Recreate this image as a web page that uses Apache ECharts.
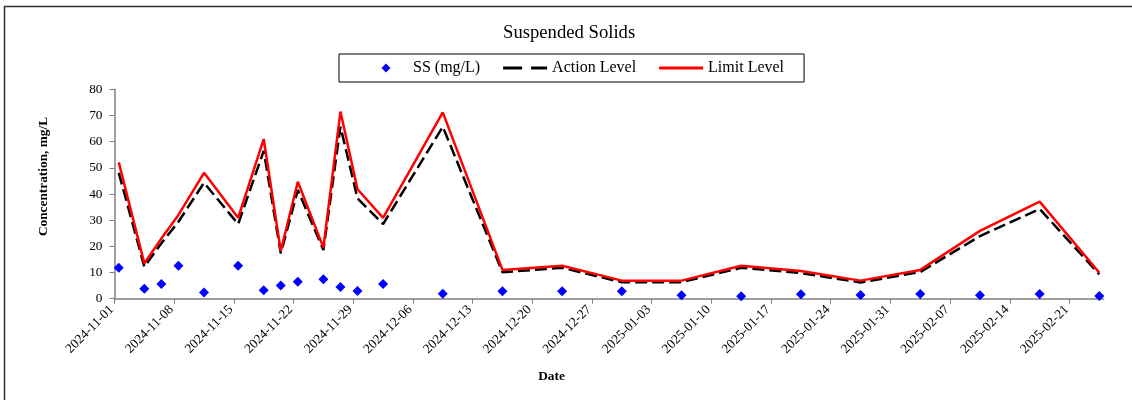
<!DOCTYPE html>
<html>
<head>
<meta charset="utf-8">
<script src="https://cdn.jsdelivr.net/npm/echarts@6/dist/echarts.min.js"></script>
<style>
html,body{margin:0;padding:0;background:#fff;}
#chart{width:1132px;height:400px;}
</style>
</head>
<body>
<div id="chart"></div>
<script>
// ---- data ----
const sampleDates = ['2024-11-01','2024-11-04','2024-11-06','2024-11-08','2024-11-11','2024-11-15','2024-11-18','2024-11-20','2024-11-22','2024-11-25','2024-11-27','2024-11-29','2024-12-02','2024-12-09','2024-12-16','2024-12-23','2024-12-30','2025-01-06','2025-01-13','2025-01-20','2025-01-27','2025-02-03','2025-02-10','2025-02-17','2025-02-24'];
const ssValues = [11.8, 3.8, 5.6, 12.6, 2.4, 12.6, 3.2, 5.0, 6.5, 7.4, 4.5, 2.9, 5.6, 1.9, 2.8, 2.8, 2.8, 1.3, 0.9, 1.7, 1.4, 1.8, 1.3, 1.8, 1.0];
const actionLevel = [48.1, 12.2, 21.2, 29.4, 44.3, 28.5, 56.5, 17.3, 41.5, 18.6, 65.7, 38.3, 28.5, 65.7, 10.1, 11.8, 6.3, 6.3, 11.8, 9.8, 6.2, 10.2, 23.9, 34.3, 9.3];
const limitLevel = [52.1, 13.5, 23.0, 32.0, 48.1, 30.9, 61.0, 18.2, 44.7, 19.5, 71.5, 41.8, 30.9, 71.2, 11.0, 12.6, 6.9, 6.9, 12.6, 10.6, 6.9, 11.0, 25.9, 37.1, 9.9];
const xTickLabels = ['2024-11-01','2024-11-08','2024-11-15','2024-11-22','2024-11-29','2024-12-06','2024-12-13','2024-12-20','2024-12-27','2025-01-03','2025-01-10','2025-01-17','2025-01-24','2025-01-31','2025-02-07','2025-02-14','2025-02-21'];
const xAxisEnd = '2025-02-25';
const yTicks = [0, 10, 20, 30, 40, 50, 60, 70, 80];

// ---- helpers ----
const DAY = 86400000;
function toUTC(s){ const p = s.split('-').map(Number); return Date.UTC(p[0], p[1]-1, p[2]); }
const base = toUTC(xTickLabels[0]);
function dayOf(s){ return (toUTC(s) - base) / DAY; }
// Excel date axis places each date in the middle of its day slot
const xs = sampleDates.map(d => dayOf(d) + 0.5);
const tickDays = xTickLabels.map(dayOf);
const labelByDay = {};
xTickLabels.forEach((l, i) => { labelByDay[tickDays[i]] = l; });

const FONT = "'Liberation Serif','Times New Roman',serif";

// legend icons (bounding box padded to the full icon slot so the shape keeps its size)
const ICON_DIAMOND = 'path://M0,5L0,5M44,5L44,5M22,0.5L26.5,5L22,9.5L17.5,5Z';
const ICON_DASH = 'path://M0,0L0,0M0,10L0,10M0,3.6H19V6.4H0Z M28,3.6H44V6.4H28Z';
const ICON_SOLID = 'path://M0,0L0,0M0,10L0,10M0,3.6H44V6.4H0Z';

const chart = echarts.init(document.getElementById('chart'), null, {renderer: 'canvas'});
chart.setOption({
  backgroundColor: '#fff',
  animation: false,
  textStyle: {fontFamily: FONT},
  title: {
    text: 'Suspended Solids',
    left: 503, top: 24,
    padding: 0,
    textStyle: {fontFamily: FONT, fontSize: 18.67, fontWeight: 'normal', color: '#000'}
  },
  legend: {
    left: 339, top: 54,
    padding: [6, 20, 6, 25],
    borderColor: '#000', borderWidth: 1,
    itemWidth: 44, itemHeight: 10, itemGap: 23,
    symbolKeepAspect: true,
    textStyle: {fontFamily: FONT, fontSize: 16, color: '#000'},
    data: [
      {name: 'SS (mg/L)', icon: ICON_DIAMOND},
      {name: 'Action Level', icon: ICON_DASH},
      {name: 'Limit Level', icon: ICON_SOLID}
    ]
  },
  grid: {left: 114.5, right: 28.4, top: 89.3, bottom: 101.3, containLabel: false},
  xAxis: {
    type: 'value',
    min: 0,
    max: dayOf(xAxisEnd),
    name: 'Date',
    nameLocation: 'middle',
    nameGap: 71,
    nameTextStyle: {fontFamily: FONT, fontSize: 13.33, fontWeight: 'bold', color: '#000', padding: [0, 115, 0, 0], verticalAlign: 'top'},
    splitLine: {show: false},
    axisLine: {show: true, lineStyle: {color: '#808080', width: 1.5}},
    axisTick: {show: true, inside: false, length: 5, customValues: tickDays, lineStyle: {color: '#808080'}},
    axisLabel: {
      customValues: tickDays,
      rotate: 45,
      margin: 6,
      padding: [0, 4, 0, 0],
      fontFamily: FONT, fontSize: 13.33, color: '#000',
      formatter: v => labelByDay[v] || ''
    }
  },
  yAxis: {
    type: 'value',
    min: yTicks[0], max: yTicks[yTicks.length-1], interval: 10,
    name: 'Concentration, mg/L',
    nameLocation: 'middle',
    nameGap: 64,
    nameTextStyle: {fontFamily: FONT, fontSize: 13.33, fontWeight: 'bold', color: '#000', padding: [0, 0, 0, 35]},
    splitLine: {show: false},
    axisLine: {show: true, lineStyle: {color: '#808080', width: 1.5}},
    axisTick: {show: true, inside: false, length: 5, lineStyle: {color: '#808080'}},
    axisLabel: {margin: 12, fontFamily: FONT, fontSize: 13.33, color: '#000'}
  },
  graphic: [{
    type: 'rect',
    shape: {x: 4.5, y: 6.5, width: 1200, height: 500},
    style: {fill: 'none', stroke: '#333', lineWidth: 1.5},
    silent: true, z: 100
  }],
  series: [
    {
      name: 'SS (mg/L)',
      type: 'scatter',
      symbol: 'diamond',
      symbolSize: 10,
      itemStyle: {color: '#0000FF', opacity: 1},
      data: xs.map((x, i) => [x, ssValues[i]]),
      z: 3
    },
    {
      name: 'Action Level',
      type: 'line',
      symbol: 'none',
      showSymbol: false,
      lineStyle: {color: '#000', width: 2.5, type: [12, 5]},
      itemStyle: {color: '#000'},
      data: xs.map((x, i) => [x, actionLevel[i]]),
      z: 4
    },
    {
      name: 'Limit Level',
      type: 'line',
      symbol: 'none',
      showSymbol: false,
      lineStyle: {color: '#FF0000', width: 2.5},
      itemStyle: {color: '#FF0000'},
      data: xs.map((x, i) => [x, limitLevel[i]]),
      z: 5
    }
  ]
});
</script>
</body>
</html>
